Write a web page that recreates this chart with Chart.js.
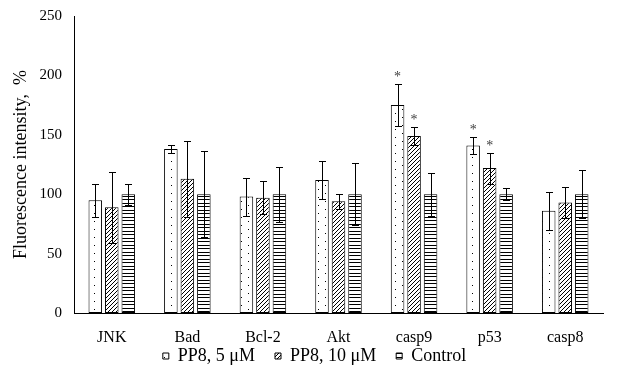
<!DOCTYPE html>
<html>
<head>
<meta charset="utf-8">
<script src="https://cdn.jsdelivr.net/npm/chart.js@4/dist/chart.umd.min.js"></script>
<style>
  html, body { margin: 0; padding: 0; background: #fff; }
  #wrap { width: 624px; height: 382px; }
</style>
</head>
<body>
<div id="wrap"><canvas id="c" width="624" height="382"></canvas></div>
<script>
const categories = ['JNK', 'Bad', 'Bcl-2', 'Akt', 'casp9', 'p53', 'casp8'];
const seriesNames = ['PP8, 5 \u03bcM', 'PP8, 10 \u03bcM', 'Control'];
const pp8Low = [95, 138, 98, 112, 175, 141, 86];
const pp8LowErr = [14, 3, 16, 16, 18, 7, 16];
const pp8High = [89, 113, 97, 94, 149, 122, 93];
const pp8HighErr = [30, 32, 14, 6.5, 7.5, 13, 13];
const control = [100, 100, 100, 100, 100, 100, 100];
const controlErr = [9, 36, 23, 26, 18, 5, 20];
const pp8LowSig = [false, false, false, false, true, true, false];
const pp8HighSig = [false, false, false, false, true, true, false];
const controlSig = [false, false, false, false, false, false, false];
const yTicks = [0, 50, 100, 150, 200, 250];

const FONT = 'Liberation Serif, "Times New Roman", serif';

function makePattern(kind) {
  const c = document.createElement('canvas');
  const ctx = c.getContext('2d');
  if (kind === 'dots') {
    c.width = 14; c.height = 8;
    ctx.fillStyle = '#fff'; ctx.fillRect(0, 0, 14, 8);
    ctx.fillStyle = '#000';
    ctx.fillRect(3, 1, 1, 1);
    ctx.fillRect(10, 5, 1, 1);
  } else if (kind === 'diag') {
    c.width = 4; c.height = 4;
    ctx.fillStyle = '#fff'; ctx.fillRect(0, 0, 4, 4);
    ctx.fillStyle = '#000';
    for (let i = 0; i < 4; i++) ctx.fillRect(3 - i, i, 1, 1);
  } else {
    c.width = 7; c.height = 7;
    ctx.fillStyle = '#fff'; ctx.fillRect(0, 0, 7, 7);
    ctx.fillStyle = '#000';
    ctx.fillRect(0, 0, 7, 1);
    ctx.fillRect(0, 3, 7, 1);
  }
  return document.getElementById('c').getContext('2d').createPattern(c, 'repeat');
}

const errs = [pp8LowErr, pp8HighErr, controlErr];
const sigs = [pp8LowSig, pp8HighSig, controlSig];

const errorBarPlugin = {
  id: 'errorBars',
  afterLayout(chart) {
    // nudge the centred legend row slightly right, like the original
    if (chart.legend) {
      chart.legend.left = 13;
      chart.legend.right = 616;
    }
  },
  afterDatasetsDraw(chart) {
    const ctx = chart.ctx;
    const y = chart.scales.y;
    ctx.save();
    ctx.strokeStyle = '#000';
    ctx.lineWidth = 1;
    chart.data.datasets.forEach((ds, di) => {
      const meta = chart.getDatasetMeta(di);
      meta.data.forEach((bar, i) => {
        const v = ds.data[i];
        const e = errs[di][i];
        const x = Math.round(bar.x) + 0.5;
        const yt = Math.round(y.getPixelForValue(v + e)) + 0.5;
        const yb = Math.round(y.getPixelForValue(v - e)) + 0.5;
        ctx.beginPath();
        ctx.moveTo(x, yt); ctx.lineTo(x, yb);
        ctx.moveTo(x - 3.5, yt); ctx.lineTo(x + 3.5, yt);
        ctx.moveTo(x - 3.5, yb); ctx.lineTo(x + 3.5, yb);
        ctx.stroke();
        if (sigs[di][i]) {
          ctx.fillStyle = '#404040';
          ctx.font = '14px ' + FONT;
          ctx.textAlign = 'center';
          ctx.textBaseline = 'alphabetic';
          ctx.fillText('*', bar.x, yt - 4);
        }
      });
    });
    ctx.restore();
  }
};

const datasets = [
  { label: seriesNames[0], data: pp8Low, backgroundColor: makePattern('dots') },
  { label: seriesNames[1], data: pp8High, backgroundColor: makePattern('diag') },
  { label: seriesNames[2], data: control, backgroundColor: makePattern('hlines') }
].map(d => Object.assign(d, {
  borderColor: '#000',
  borderWidth: 1,
  borderSkipped: false,
  categoryPercentage: 0.655,
  barPercentage: 0.82
}));

new Chart(document.getElementById('c'), {
  type: 'bar',
  data: { labels: categories, datasets },
  plugins: [errorBarPlugin],
  options: {
    responsive: false,
    animation: false,
    devicePixelRatio: 1,
    layout: { padding: { left: 0, right: 21, top: 16, bottom: 7 } },
    plugins: {
      tooltip: { enabled: false },
      legend: {
        position: 'bottom',
        labels: {
          boxWidth: 6,
          boxHeight: 6,
          padding: 20,
          color: '#000',
          font: { family: FONT, size: 18 }
        }
      }
    },
    scales: {
      x: {
        grid: { display: false, drawTicks: false },
        border: { display: true, color: '#000', width: 1 },
        ticks: { color: '#000', mirror: true, padding: -34.6, font: { family: FONT, size: 16 } },
        afterFit(s) { s.height = 14; s.paddingLeft = 0; s.paddingRight = 0; }
      },
      y: {
        min: 0,
        max: 250,
        afterBuildTicks(s) { s.ticks = yTicks.map(v => ({ value: v })); },
        grid: { display: false, drawTicks: false },
        border: { display: true, color: '#000', width: 1 },
        ticks: { color: '#000', padding: 12, font: { family: FONT, size: 15 } },
        title: {
          display: true,
          text: 'Fluorescence intensity,  %',
          color: '#000',
          font: { family: FONT, size: 18 },
          padding: { top: 10, bottom: 0 }
        },
        afterFit(s) { s.width = 74; s.paddingTop = 0; s.paddingBottom = 0; }
      }
    }
  }
});
</script>
</body>
</html>
